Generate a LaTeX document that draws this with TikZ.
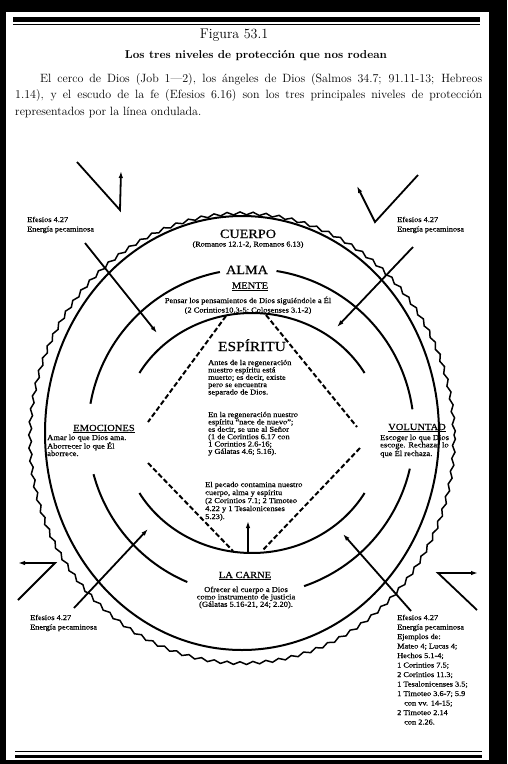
\documentclass[tikz,border=0pt]{standalone}
\usepackage{fontspec}
\usepackage{graphicx}
\newfontfamily\dfont[FakeStretch=1.12,FakeBold=0.5]{Liberation Serif}
\usetikzlibrary{decorations.pathmorphing,arrows.meta}
\newcommand\lft[1]{\begin{tabular}[t]{@{}l@{}}#1\end{tabular}}
\newcommand\ctr[1]{\begin{tabular}[t]{@{}c@{}}#1\end{tabular}}
\begin{document}
\begin{tikzpicture}[x=1pt,y=-1pt,
  ring/.style={line width=2pt},
  wavy/.style={line width=1.5pt, decorate, decoration={snake, amplitude=1.4pt, segment length=13pt}},
  dashln/.style={line width=2pt, dash pattern=on 5pt off 2.5pt},
  hit/.style={line width=1.8pt, -{Latex[length=7pt,width=4.5pt]}},
  deflect/.style={line width=1.8pt, -{Latex[length=7pt,width=4.5pt]}, line join=miter},
  big/.style={font=\dfont\fontsize{12.7}{12.7}\selectfont, inner sep=0},
  huge/.style={font=\dfont\fontsize{13.8}{13.8}\selectfont, inner sep=0},
  mid/.style={font=\dfont\fontsize{9.4}{9.4}\selectfont, inner sep=0},
  small/.style={font=\dfont\fontsize{7.5}{7.3}\selectfont, inner sep=0},
  smallc/.style={font=\dfont\fontsize{7.6}{7}\selectfont, inner sep=0},
  efs/.style={font=\dfont\fontsize{7.4}{9.5}\selectfont, inner sep=0},
  head/.style={inner sep=0}
]
\useasboundingbox (0,0) rectangle (507,764);
% page
\fill[black] (0,0) rectangle (507,764);
\fill[white] (6,12) rectangle (489,760);
\fill[black] (13,17) rectangle (480,21.5);
\draw[line width=1pt] (13,24) -- (480,24);
\draw[line width=1pt] (15,751.5) -- (482,751.5);
\fill[black] (15,754.5) rectangle (482,758);

% header
\node[head, anchor=base] (fig) at (234,38.5) {\fontsize{14}{14}\selectfont Figura 53.1};
\node[head, anchor=base] (tit) at (256,58) {\resizebox{262pt}{!}{\bfseries Los tres niveles de protección que nos rodean}};
\node[head, anchor=base west] (par) at (15,82) {\begin{minipage}[t]{467pt}\fontsize{12}{16.8}\selectfont\noindent\hspace*{25pt}El cerco de Dios (Job 1—2), los ángeles de Dios (Salmos 34.7; 91.11-13; Hebreos\linebreak 1.14), y el escudo de la fe (Efesios 6.16) son los tres principales niveles de protección\linebreak representados por la línea ondulada.\end{minipage}};

% rings
\coordinate (cw) at (242,435);
\coordinate (cb) at (242,433);
\draw[wavy] (cw) ellipse [x radius=212, y radius=225];
\draw[ring] (cb) ellipse [x radius=197, y radius=217];
% alma ring (centre 251,432 r 163)
\draw[ring] plot[domain=8:81, samples=60] ({251+163*cos(\x)},{432-163*sin(\x)});
\draw[ring] plot[domain=101:170, samples=60] ({251+163*cos(\x)},{432-163*sin(\x)});
\draw[ring] plot[domain=195:247, samples=60] ({251+163*cos(\x)},{432-163*sin(\x)});
\draw[ring] plot[domain=289:347, samples=60] ({251+163*cos(\x)},{432-163*sin(\x)});
% inner ellipse
\draw[ring] plot[domain=30:150, samples=80] ({252+130*cos(\x)},{433-120*sin(\x)});
\draw[ring] plot[domain=210:330, samples=80] ({252+130*cos(\x)},{433-120*sin(\x)});

% dashed lines
\coordinate (ul1) at (226,316); \coordinate (ul2) at (148,422);
\coordinate (ur1) at (266,315); \coordinate (ur2) at (357,427);
\coordinate (ll1) at (148,463); \coordinate (ll2) at (233,551);
\coordinate (lr1) at (360,448); \coordinate (lr2) at (262,551);
\draw[dashln] (ul1) -- (ul2);
\draw[dashln] (ur1) -- (ur2);
\draw[dashln] (ll1) -- (ll2);
\draw[dashln] (lr1) -- (lr2);

% carne arrow
\coordinate (cr1) at (248,553); \coordinate (cr2) at (248,521);
\draw[hit] (cr1) -- (cr2);

% Efesios arrows
\coordinate (a1) at (77,162); \coordinate (b1) at (120,210); \coordinate (c1) at (121,171);
\draw[deflect] (a1) -- (b1) -- (c1);
\coordinate (d1) at (85,243); \coordinate (f1) at (157,333);
\draw[hit] (d1) -- (f1);
\coordinate (a2) at (418,175); \coordinate (b2) at (375,222); \coordinate (c2) at (357,186);
\draw[deflect] (a2) -- (b2) -- (c2);
\coordinate (d2) at (413,247); \coordinate (f2) at (337,327);
\draw[hit] (d2) -- (f2);
\coordinate (a3) at (18,600); \coordinate (b3) at (55,563); \coordinate (c3) at (18,563);
\draw[deflect] (a3) -- (b3) -- (c3);
\coordinate (d3) at (74,608); \coordinate (f3) at (148,529);
\draw[hit] (d3) -- (f3);
\coordinate (a4) at (477,610); \coordinate (b4) at (438,573); \coordinate (c4) at (478,573);
\draw[deflect] (a4) -- (b4) -- (c4);
\coordinate (d4) at (411,611); \coordinate (f4) at (343,534);
\draw[hit] (d4) -- (f4);

% labels
\node[big, anchor=base] (cuerpo) at (248,238) {CUERPO};
\node[font=\dfont\fontsize{7.3}{7.3}\selectfont, inner sep=0, anchor=base] (rom) at (248,246.5) {(Romanos 12.1-2, Romanos 6.13)};
\node[big, anchor=base] (alma) at (247,274) {ALMA};
\node[mid, anchor=base] (mente) at (250,288.5) {\underline{MENTE}};
\node[small, anchor=base] (pensar) at (248,303) {Pensar los pensamientos de Dios siguiéndole a Él};
\node[small, anchor=base] (pcor) at (248,312.5) {(2 Corintios10.3-5; Colosenses 3.1-2)};
\node[huge, anchor=base] (esp) at (252,351) {ESPÍRITU};
\node[small, anchor=base west] (p1) at (208,365) {\lft{Antes de la regeneración\\nuestro espíritu está\\muerto; es decir, existe\\pero se encuentra\\separado de Dios.}};
\node[small, anchor=base west] (p2) at (208,417) {\lft{En la regeneración nuestro\\espíritu “nace de nuevo”;\\es decir, se une al Señor\\(1 de Corintios 6.17 con\\1 Corintios 2.6-16;\\y Gálatas 4.6; 5.16).}};
\node[font=\dfont\fontsize{7.5}{8}\selectfont, inner sep=0, anchor=base west] (p3) at (205,487) {\lft{El pecado contamina nuestro\\cuerpo, alma y espíritu\\(2 Corintios 7.1; 2 Timoteo\\4.22 y 1 Tesalonicenses\\5.23).}};

\node[mid, anchor=base] (emo) at (104,431) {\underline{EMOCIONES}};
\node[smallc, anchor=base west] (emot) at (47,440) {\lft{Amar lo que Dios ama.\\Aborrecer lo que Él\\aborrece.}};
\node[mid, anchor=base] (vol) at (417,430) {\underline{VOLUNTAD}};
\node[smallc, anchor=base west] (volt) at (380,440) {\lft{Escoger lo que Dios\\escoge. Rechazar lo\\que Él rechaza.}};
\node[mid, anchor=base] (carne) at (245,578) {\underline{LA CARNE}};
\node[smallc, anchor=base] (carnet) at (246,592) {\ctr{Ofrecer el cuerpo a Dios\\como instrumento de justicia\\(Gálatas 5.16-21, 24; 2.20).}};

\node[efs, anchor=base west] (e1) at (27,222) {\lft{Efesios 4.27\\Energía pecaminosa}};
\node[efs, anchor=base west] (e2) at (397,222) {\lft{Efesios 4.27\\Energía pecaminosa}};
\node[efs, anchor=base west] (e3) at (30,620) {\lft{Efesios 4.27\\Energía pecaminosa}};
\node[efs, anchor=base west] (e4) at (397,620) {\lft{Efesios 4.27\\Energía pecaminosa}};
\node[efs, anchor=base west] (ej) at (397,639) {\lft{Ejemplos de:\\Mateo 4; Lucas 4;\\Hechos 5.1-4;\\1 Corintios 7.5;\\2 Corintios 11.3;\\1 Tesalonicenses 3.5;\\1 Timoteo 3.6-7; 5.9\\\hspace*{7pt}con vv. 14-15;\\2 Timoteo 2.14\\\hspace*{7pt}con 2.26.}};
\end{tikzpicture}
\end{document}
